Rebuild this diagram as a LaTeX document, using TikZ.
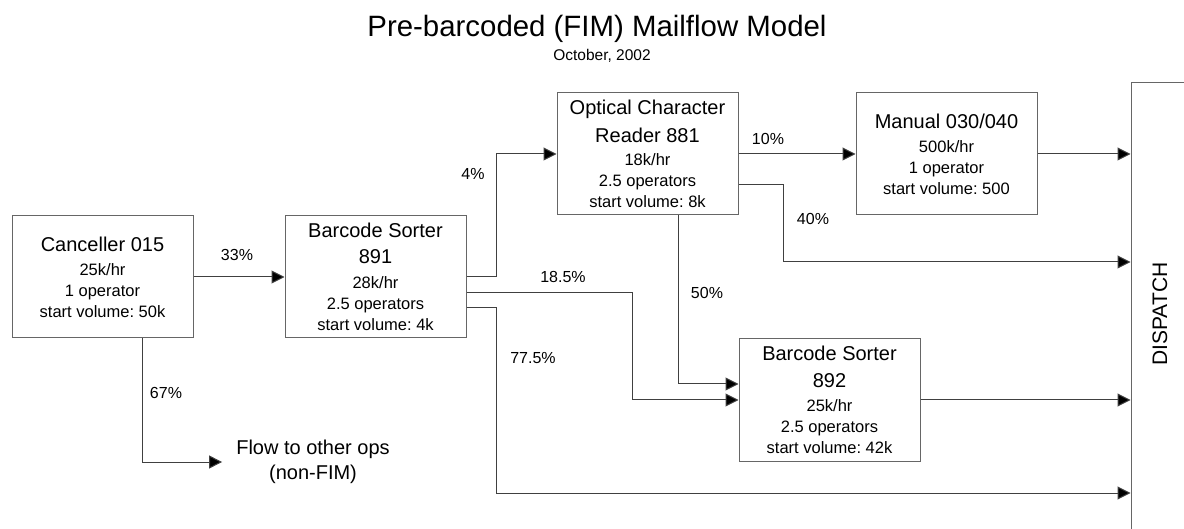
\documentclass[tikz,border=0pt]{standalone}
\usepackage{fontspec}
\setmainfont{Liberation Sans}
\usepackage{graphicx}
\usetikzlibrary{positioning,arrows.meta}

\newcommand{\hd}[1]{{\fontsize{20}{24}\selectfont #1}}

\begin{document}
\frenchspacing
\begin{tikzpicture}[x=1pt, y=-1pt,
node distance = 91pt,
station/.style={rectangle, draw=black!60, line width=1pt, minimum width=181pt, minimum height=122pt, inner sep=0pt, align=center, font=\fontsize{16.5}{21}\selectfont},
pct/.style={font=\fontsize{16}{19}\selectfont, inner sep=0pt},
flow/.style={-{Triangle[length=13pt,width=13pt,fill=black]}, draw=black!75, line width=1pt}]

\useasboundingbox (0,0) rectangle (1184,529);
\clip (0,0) rectangle (1184,529);

\node[anchor=base] (title) at (597,37) {\fontsize{29.4}{34}\selectfont Pre-barcoded (FIM) Mailflow Model};
\node[anchor=base] (date) at (602,61) {\fontsize{15.5}{18}\selectfont October, 2002};

% stations
\node[station] (can015) at (102.5,277) {\hd{Canceller 015}\\[3pt]25k/hr\\1 operator\\start volume: 50k};
\node[station] (bs891) [right = 91pt of can015] {\hd{Barcode Sorter}\\[5pt]\hd{891}\\[4pt]28k/hr\\2.5 operators\\start volume: 4k};
\node[station] (ocr881) [above right = 0pt and 90pt of bs891] {\hd{Optical Character}\\[7pt]\hd{Reader 881}\\[2pt]18k/hr\\2.5 operators\\start volume: 8k};
\node[station] (man030) [right = 117pt of ocr881] {\hd{Manual 030/040}\\[3pt]500k/hr\\1 operator\\start volume: 500};
\node[station] (bs892) [below right = 123pt and 0pt of ocr881] {\hd{Barcode Sorter}\\[6pt]\hd{892}\\[3pt]25k/hr\\2.5 operators\\start volume: 42k};
\node[draw=black!60, line width=1pt, minimum width=58pt, minimum height=462pt, inner sep=0pt] (dispatch) at (1160,314) {\rotatebox{90}{\fontsize{21}{24}\selectfont DISPATCH}};
\node[align=center, inner xsep=14pt, inner ysep=0pt, font=\fontsize{20}{25}\selectfont] (otherops) at (313,462) {Flow to other ops\\(non-FIM)};

% flows
\draw[flow] (can015) -- (bs891);
\draw[flow] ([xshift=40pt]can015.south) |- (otherops.west);
\draw[flow] (bs891.east) -- ++(30,0) |- (ocr881.west);
\draw[flow] ([yshift=-16pt]bs891.east) -- ++(166,0) |- (bs892.west);
\draw[flow] ([yshift=-31pt]bs891.east) -- ++(30,0) |- ([yshift=-179pt]dispatch.west);
\draw[flow] (ocr881) -- (man030);
\draw[flow] ([yshift=-31pt]ocr881.east) -- ++(45,0) |- ([yshift=52pt]dispatch.west);
\draw[flow] ([xshift=31pt]ocr881.south) |- ([yshift=16pt]bs892.west);
\draw[flow] (man030.east) -- (man030.east -| dispatch.west);
\draw[flow] (bs892.east) -- (bs892.east -| dispatch.west);

% percentages
\node[pct] (p33) at (237,255) {33\%};
\node[pct] (p67) at (166,393) {67\%};
\node[pct] (p4) at (473,174) {4\%};
\node[pct] (p185) at (563,277) {18.5\%};
\node[pct] (p775) at (533,358) {77.5\%};
\node[pct] (p10) at (768,139) {10\%};
\node[pct] (p40) at (813,219) {40\%};
\node[pct] (p50) at (707,293) {50\%};
\end{tikzpicture}
\end{document}
